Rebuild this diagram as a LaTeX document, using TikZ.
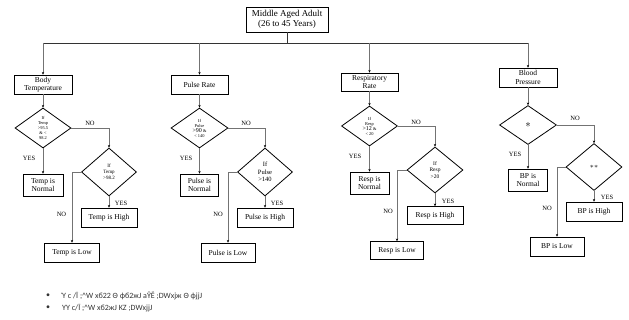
\documentclass[tikz,border=0pt]{standalone}
\usepackage{fontspec}
\setmainfont{Liberation Serif}
\newfontfamily\garb{Carlito}
\usetikzlibrary{shapes.geometric,arrows.meta}
\tikzset{
  box/.style={draw, line width=0.8pt, inner sep=0pt, align=center, font=\fontsize{7.5}{8.5}\selectfont},
  dia/.style={draw, diamond, line width=0.8pt, inner sep=0pt, align=center},
  conn/.style={draw=black!55, line width=0.5pt},
  arr/.style={conn, -{Stealth[length=2.6pt,width=2.4pt,color=black]}},
  busline/.style={draw=black!80, line width=0.7pt},
  lbl/.style={font=\fontsize{6.5}{7}\selectfont, inner sep=0pt},
  tinyt/.style={font=\fontsize{4.4}{5}\selectfont},
  garbt/.style={font=\garb\fontsize{8}{9}\selectfont, text=black!80, inner sep=0pt, anchor=west}
}
\begin{document}
\begin{tikzpicture}[x=1pt,y=-1pt]
\useasboundingbox (0,0) rectangle (629,320);
\fill[white] (0,0) rectangle (629,320);
% top
\node[box, font=\fontsize{9}{10.5}\selectfont, minimum width=82pt, minimum height=25pt] (top) at (287,19.5) {Middle Aged Adult\\(26 to 45 Years)};
\coordinate (busL) at (43,43);
\coordinate (busR) at (528,43);
\coordinate (busT) at (287,43);
% level 2
\node[box, minimum width=58pt, minimum height=19pt] (bt) at (43,84.5) {Body\\Temperature};
\node[box, minimum width=57pt, minimum height=19pt] (pr) at (199.5,84.5) {Pulse Rate};
\node[box, minimum width=57pt, minimum height=18pt] (rr) at (369.5,82) {Respiratory\\Rate};
\node[box, minimum width=58pt, minimum height=19pt] (bp) at (528,77.5) {Blood\\Pressure};
% diamonds 1
\node[dia, tinyt, minimum width=56pt, minimum height=40pt] (td1) at (43,128) {If\\Temp\\>95.5\\\& <\\98.2};
\node[dia, tinyt, minimum width=57pt, minimum height=40pt] (pd1) at (199.5,128) {If\\Pulse\\{\fontsize{6}{6}\selectfont >90} \&\\< 140};
\node[dia, tinyt, minimum width=56pt, minimum height=40pt] (rd1) at (369.5,126) {If\\Resp\\{\fontsize{6}{6}\selectfont >12} \&\\< 20};
\node[dia, font=\fontsize{11}{11}\selectfont, minimum width=57pt, minimum height=39pt] (bd1) at (528,125) {$\ast$};
% diamonds 2
\node[dia, font=\fontsize{5}{5.8}\selectfont, minimum width=55pt, minimum height=48pt] (td2) at (109,172) {If\\Temp\\>98.2};
\node[dia, font=\fontsize{6.5}{7.5}\selectfont, minimum width=55pt, minimum height=48pt] (pd2) at (265,172) {If\\Pulse\\>140};
\node[dia, font=\fontsize{5.5}{6.5}\selectfont, minimum width=56pt, minimum height=46pt] (rd2) at (435,170) {If\\Resp\\>20};
\node[dia, font=\fontsize{7}{7}\selectfont, minimum width=56pt, minimum height=47pt] (bd2) at (594,167) {$\ast\ast$};
% level 3
\node[box, minimum width=40pt, minimum height=22pt] (tn) at (43,185) {Temp is\\Normal};
\node[box, minimum width=56pt, minimum height=19pt] (th) at (109,217.5) {Temp is High};
\node[box, minimum width=55pt, minimum height=19pt] (tl) at (72,252.5) {Temp is Low};
\node[box, minimum width=38pt, minimum height=22pt] (pn) at (199.5,185) {Pulse is\\Normal};
\node[box, minimum width=56pt, minimum height=19pt] (ph) at (265,217.5) {Pulse is High};
\node[box, minimum width=54pt, minimum height=19pt] (pl) at (228,252.5) {Pulse is Low};
\node[box, minimum width=39pt, minimum height=22pt] (rn) at (369.5,183) {Resp is\\Normal};
\node[box, minimum width=56pt, minimum height=18pt] (rh) at (435,215.5) {Resp is High};
\node[box, minimum width=53pt, minimum height=18pt] (rl) at (397,250.5) {Resp is Low};
\node[box, minimum width=39pt, minimum height=22pt] (bn) at (528,180) {BP is\\Normal};
\node[box, minimum width=56pt, minimum height=19pt] (bh) at (594,211.5) {BP is High};
\node[box, minimum width=54pt, minimum height=19pt] (bl) at (557,246.5) {BP is Low};
% bus
\draw[busline] (top.south) -- (busT);
\draw[busline] (busL) -- (busR);
\draw[arr] (busL) -- (bt.north);
\draw[arr] (pr.north |- busL) -- (pr.north);
\draw[arr] (rr.north |- busL) -- (rr.north);
\draw[arr] (busR) -- (bp.north);
% columns
\foreach \a/\b/\c/\d/\e/\f in {bt/td1/td2/tn/th/tl, pr/pd1/pd2/pn/ph/pl, rr/rd1/rd2/rn/rh/rl, bp/bd1/bd2/bn/bh/bl}{
  \draw[arr] (\a.south) -- (\b.north);
  \draw[arr] (\b.east) -| (\c.north);
  \draw[arr] (\b.south) -- (\d.north);
  \draw[arr] (\c.south) -- (\e.north);
  \draw[arr] (\c.west) -| (\f.north);
}
% labels
\node[lbl] (tno1) at (90,123) {NO};
\node[lbl] (tyes1) at (29,158) {YES};
\node[lbl] (tyes2) at (121,203) {YES};
\node[lbl] (tno2) at (61.5,214) {NO};
\node[lbl] (pno1) at (246,123) {NO};
\node[lbl] (pyes1) at (186,158) {YES};
\node[lbl] (pyes2) at (277,203) {YES};
\node[lbl] (pno2) at (218,214) {NO};
\node[lbl] (rno1) at (416,122) {NO};
\node[lbl] (ryes1) at (355,156) {YES};
\node[lbl] (ryes2) at (448,201) {YES};
\node[lbl] (rno2) at (388,211) {NO};
\node[lbl] (bno1) at (575,118) {NO};
\node[lbl] (byes1) at (515,154) {YES};
\node[lbl] (byes2) at (607,197) {YES};
\node[lbl] (bno2) at (547,208) {NO};
% bullets
\node[garbt, anchor=center] (bu1) at (48,296) {•};
\node[garbt] (g1) at (62,296) {Ύ c /Ī ;\^{}W xб22 Θ ϕб2жJ aŶĚ ;DWxjж Θ ϕjjJ};
\node[garbt, anchor=center] (bu2) at (48,308) {•};
\node[garbt] (g2) at (62,308) {ΎΎ c/Ī ;\^{}W xб2жJ KZ ;DWxjjJ};
\end{tikzpicture}
\end{document}
